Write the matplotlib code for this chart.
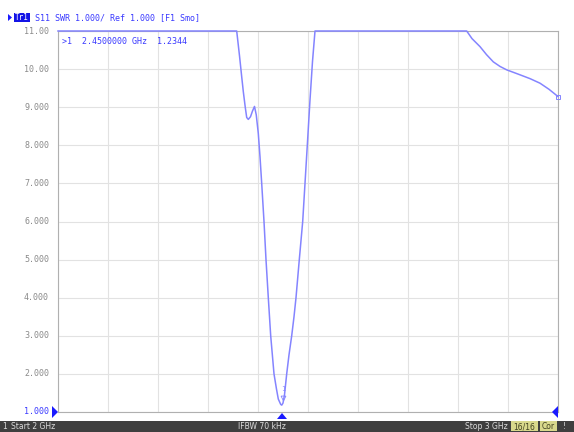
import numpy as np
import matplotlib
matplotlib.use("Agg")
import matplotlib.pyplot as plt
from matplotlib.patches import Rectangle, Polygon

# S11 SWR trace, 2-3 GHz sweep (display pegs at top of scale, 11.00)
freq_ghz = [2.000, 2.100, 2.200, 2.300, 2.3574, 2.3630, 2.3674, 2.3706, 2.3745,
            2.3774, 2.3806, 2.3850, 2.3890, 2.3930, 2.3965, 2.4006, 2.4040,
            2.4074, 2.4120, 2.4160, 2.4206, 2.4254, 2.4320, 2.4370, 2.4406,
            2.4454, 2.4475, 2.4500, 2.4530, 2.4574, 2.4620, 2.4674, 2.4720,
            2.4760, 2.4826, 2.4894, 2.4940, 2.4986, 2.5040, 2.5090, 2.5140,
            2.600, 2.700, 2.8174, 2.8280, 2.8440, 2.8570, 2.8706, 2.8840,
            2.8974, 2.9200, 2.9440, 2.9640, 2.9820, 3.0000]
swr = [11.0, 11.0, 11.0, 11.0, 11.0, 10.35, 9.80, 9.41, 9.00,
       8.73, 8.68, 8.75, 8.90, 9.02, 8.80, 8.31, 7.70,
       7.00, 6.00, 5.00, 4.00, 3.00, 2.00, 1.60, 1.34,
       1.20, 1.18, 1.2344, 1.45, 2.00, 2.50, 3.00, 3.50,
       4.00, 5.00, 6.00, 7.00, 8.00, 9.19, 10.20, 11.0,
       11.0, 11.0, 11.0, 10.80, 10.59, 10.38, 10.19, 10.07,
       9.98, 9.87, 9.75, 9.63, 9.47, 9.28]

y_ticks = [11.0, 10.0, 9.0, 8.0, 7.0, 6.0, 5.0, 4.0, 3.0, 2.0, 1.0]
y_tick_labels = ["11.00", "10.00", "9.000", "8.000", "7.000", "6.000",
                 "5.000", "4.000", "3.000", "2.000", "1.000"]
marker_freq = 2.45
marker_swr = 1.2344

W, H = 574, 432
fig = plt.figure(figsize=(W / 100, H / 100), dpi=100)
fig.patch.set_facecolor("white")

def px(x, y):
    return x / W, 1 - y / H

mono = "DejaVu Sans Mono"
blue_txt = "#3a3aff"
trace_col = "#8484ff"

ax = fig.add_axes([58 / W, 20 / H, 500 / W, 381 / H])
ax.set_xlim(2.0, 3.0)
ax.set_ylim(1.0, 11.0)
ax.set_xticks(np.linspace(2.0, 3.0, 11))
ax.set_yticks(y_ticks)
ax.grid(True, color="#e2e2e2", linewidth=0.8)
ax.tick_params(length=0, labelbottom=False, labelleft=False)
for s in ax.spines.values():
    s.set_color("#b0b0b0")
    s.set_linewidth(0.8)

ax.plot(freq_ghz, swr, color=trace_col, linewidth=1.1, clip_on=False, zorder=3,
        solid_joinstyle="round")

# trace end marker at stop frequency
ax.plot([freq_ghz[-1]], [swr[-1]], marker="s", markersize=3,
        markerfacecolor="none", markeredgecolor=trace_col, markeredgewidth=0.7,
        clip_on=False, zorder=4)

# marker 1 on the trace
ax.plot([marker_freq], [marker_swr + 0.12], marker="v", markersize=3.5,
        markerfacecolor="none", markeredgecolor=trace_col, markeredgewidth=0.6, zorder=4)
ax.text(marker_freq, marker_swr + 0.28, "1", fontsize=5, color=trace_col,
        ha="center", va="bottom", family=mono)
ax.text(0.008, 0.985,
        f">1  {marker_freq:.7f} GHz  {marker_swr:.4f}",
        transform=ax.transAxes, fontsize=6, color=blue_txt, family=mono,
        ha="left", va="top")

# y tick labels
for v, lab in zip(y_ticks, y_tick_labels):
    _, yd = ax.transData.transform((2.0, v))
    fig.text(49 / W, yd / H, lab, fontsize=6, family=mono,
             color=blue_txt if lab == "1.000" else "#8a8a8a",
             ha="right", va="center")

# reference position and sweep-end markers
def tri(points, color="#1a1aff"):
    fig.patches.append(Polygon([px(*p) for p in points], closed=True,
                               transform=fig.transFigure, facecolor=color,
                               edgecolor="none"))

tri([(52, 406), (52, 418), (58, 412)])
tri([(558, 406), (558, 418), (552, 412)])
mx = 58 + (marker_freq - 2.0) * 500 - 1
tri([(mx - 5, 419), (mx + 5, 419), (mx, 413)])
tri([(8, 14), (8, 21), (12, 17.5)])

# header
fig.patches.append(Rectangle(px(14, 22), 16 / W, 9 / H, transform=fig.transFigure,
                             facecolor="#1414e6", edgecolor="none"))
fig.text(*px(22, 17.5), "Tr1", fontsize=5.5, family=mono, color="white",
         ha="center", va="center")
fig.text(*px(35, 17.5), "S11 SWR 1.000/ Ref 1.000 [F1 Smo]", fontsize=6,
         family=mono, color=blue_txt, ha="left", va="center")

# status bar
fig.patches.append(Rectangle((0, 0), 1, 11.5 / H, transform=fig.transFigure,
                             facecolor="#3f3f3f", edgecolor="none"))
sb_y = 426.5
fig.text(*px(2, sb_y), "1", fontsize=5.5, color="#dcdcdc", ha="left", va="center")
fig.text(*px(11, sb_y), "Start 2 GHz", fontsize=5.5, color="#dcdcdc", ha="left", va="center")
fig.text(*px(262, sb_y), "IFBW 70 kHz", fontsize=5.5, color="#dcdcdc", ha="center", va="center")
fig.text(*px(508, sb_y), "Stop 3 GHz", fontsize=5.5, color="#dcdcdc", ha="right", va="center")
fig.patches.append(Rectangle(px(511, 431), 27 / W, 10 / H, transform=fig.transFigure,
                             facecolor="#d8d88c", edgecolor="none"))
fig.text(*px(524.5, sb_y), "16/16", fontsize=5.5, color="#404020", ha="center", va="center")
fig.patches.append(Rectangle(px(540, 431), 17 / W, 10 / H, transform=fig.transFigure,
                             facecolor="#d8d88c", edgecolor="none"))
fig.text(*px(548.5, sb_y), "Cor", fontsize=5.5, color="#404020", ha="center", va="center")
fig.text(*px(564, sb_y), "!", fontsize=5.5, color="#dcdcdc", ha="center", va="center")

fig.savefig("out.png", dpi=100)
